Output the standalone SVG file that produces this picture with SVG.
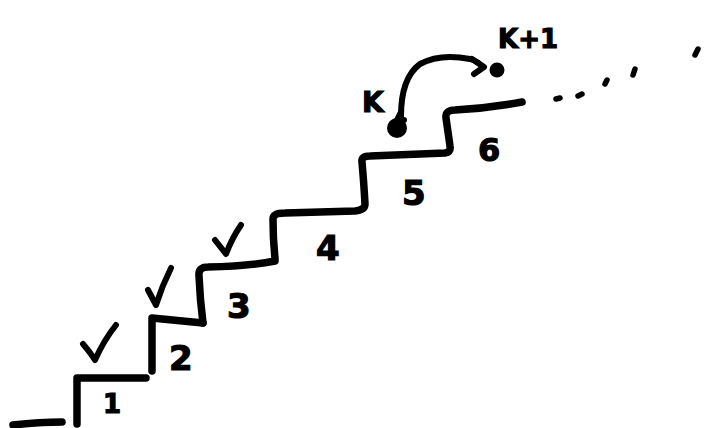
<svg xmlns="http://www.w3.org/2000/svg" width="712" height="428" viewBox="0 0 712 428">
<style>
.s{fill:none;stroke:#000;stroke-width:7.5;stroke-linecap:round;stroke-linejoin:round}
.c{fill:none;stroke:#000;stroke-width:6;stroke-linecap:round;stroke-linejoin:round}
.d{fill:none;stroke:#000;stroke-width:5.5;stroke-linecap:round}
.n{font-family:"DejaVu Sans","Liberation Sans",sans-serif;font-weight:bold;fill:#000;stroke:#000;stroke-width:1.2}
</style>
<rect width="712" height="428" fill="#fff"/>
<g id="stairs">
<path class="s" d="M13,425 Q40,422 62,422"/>
<path class="s" d="M77,424 L77,378 L146,378"/>
<path class="s" d="M152,371 L152,318 L203,323"/>
<path class="s" d="M203,323 Q200,300 199,276 Q198,267 208,267 Q250,266 275,261 L275,258 Q273,240 273,219 Q273,213 285,213 L355,211 Q365,210 365,204 Q364,185 362,162 Q361,156 370,156 L445,153 Q451,152 450,146 L446,118 Q445,110 455,110 Q490,108 522,102"/>
</g>
<g id="dots">
<path class="d" d="M556,99 L560,98 M578,96 L582,94 M605,84 L607,80 M633,75 L635,69 M695,55 L698,49"/>
</g>
<g id="checks">
<path class="c" d="M83,344 Q90,352 95,360 Q104,340 116,325"/>
<path class="c" d="M148,290 L156,305 Q162,286 171,268"/>
<path class="c" d="M215,240 L226,254 Q232,238 241,225"/>
</g>
<g id="labels">
<text class="n" x="103" y="413" font-size="26">1</text>
<text class="n" x="169" y="370" font-size="34">2</text>
<text class="n" x="227" y="318" font-size="34">3</text>
<text class="n" x="316" y="260" font-size="34">4</text>
<text class="n" x="402" y="205" font-size="34">5</text>
<text class="n" x="478" y="161" font-size="32">6</text>
<text class="n" x="362" y="112" font-size="28">K</text>
<text class="n" x="498" y="48" font-size="26">K+1</text>
</g>
<g id="nodes">
<g id="node-k"><ellipse cx="397" cy="128" rx="10" ry="10" fill="#000"/></g>
<g id="node-k1"><circle cx="497" cy="70" r="7.5" fill="#000"/></g>
</g>
<g id="connectors">
<path class="c" d="M401,116 Q401,78 420,64 Q440,53 470,59 Q480,62 482,67"/>
<path class="c" d="M401,112 L397,120 L404,120"/>
<path class="c" d="M472,59 L484,67 L474,74"/>
</g>
</svg>
